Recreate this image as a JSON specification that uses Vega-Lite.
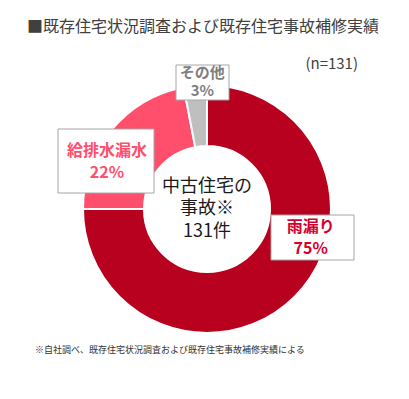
{
  "$schema": "https://vega.github.io/schema/vega-lite/v6.json",
  "padding": {"left": 27, "top": 19, "right": 0, "bottom": 0},
  "background": "white",
  "title": {"text": "■既存住宅状況調査および既存住宅事故補修実績", "anchor": "start", "fontSize": 16, "fontWeight": "normal", "color": "#404040", "font": "Noto Sans CJK JP", "offset": 22},
  "data": {"values": [
    {"cause": "雨漏り", "value": 75},
    {"cause": "給排水漏水", "value": 22},
    {"cause": "その他", "value": 3}
  ]},
  "transform": [
    {"stack": "value", "groupby": [], "sort": [{"field": "value", "order": "descending"}], "as": ["v0", "v1"]},
    {"calculate": "(datum.v0 + datum.v1) / 2", "as": "mid"},
    {"calculate": "datum.cause + '\\n' + datum.value + '%'", "as": "label"}
  ],
  "vconcat": [{
    "title": {"text": "※自社調べ、既存住宅状況調査および既存住宅事故補修実績による", "orient": "bottom", "anchor": "start", "dx": 8, "fontSize": 9, "fontWeight": "normal", "color": "#333333", "font": "Noto Sans CJK JP", "offset": 9},
    "vconcat": [{
      "title": {"text": "(n=131)", "anchor": "end", "dx": -29, "fontSize": 15, "fontWeight": "normal", "color": "#404040", "font": "Noto Sans CJK JP", "offset": -9},
      "width": 360,
      "height": 248,
      "layer": [
        {
          "mark": {"type": "arc", "outerRadius": 124, "innerRadius": 63, "stroke": "white", "strokeWidth": 2},
          "encoding": {
            "theta": {"field": "v0", "type": "quantitative", "scale": {"domain": [0, 100]}},
            "theta2": {"field": "v1"},
            "color": {"field": "cause", "type": "nominal", "legend": null, "scale": {"domain": ["雨漏り", "給排水漏水", "その他"], "range": ["#B8001F", "#FF4F6D", "#BFBFBF"]}}
          }
        },
        {
          "transform": [{"filter": "datum.cause === '雨漏り'"}],
          "mark": {"type": "point", "shape": "M-0.83,-0.45L0.83,-0.45L0.83,0.45L-0.83,0.45Z", "size": 10000, "filled": true, "fill": "white", "stroke": "#A6A6A6", "strokeWidth": 1, "opacity": 1, "xOffset": 105.5, "yOffset": 28.5},
          "encoding": {}
        },
        {
          "transform": [{"filter": "datum.cause === '給排水漏水'"}],
          "mark": {"type": "point", "shape": "M-0.96,-0.64L0.96,-0.64L0.96,0.64L-0.96,0.64Z", "size": 10000, "filled": true, "fill": "white", "stroke": "#A6A6A6", "strokeWidth": 1, "opacity": 1, "xOffset": -101, "yOffset": -48},
          "encoding": {}
        },
        {
          "transform": [{"filter": "datum.cause === 'その他'"}],
          "mark": {"type": "point", "shape": "M-0.53,-0.35L0.53,-0.35L0.53,0.35L-0.53,0.35Z", "size": 10000, "filled": true, "fill": "white", "stroke": "#A6A6A6", "strokeWidth": 1, "opacity": 1, "xOffset": -4.5, "yOffset": -126.5},
          "encoding": {}
        },
        {
          "transform": [{"filter": "datum.cause === '雨漏り'"}],
          "mark": {"type": "text", "radius": 124, "dx": 16, "dy": -70, "lineBreak": "\n", "lineHeight": 22, "fontSize": 16, "fontWeight": "bold", "font": "Noto Sans CJK JP", "color": "#D4002E", "align": "center", "baseline": "middle"},
          "encoding": {"theta": {"field": "mid", "type": "quantitative"}, "text": {"field": "label"}}
        },
        {
          "transform": [{"filter": "datum.cause === '給排水漏水'"}],
          "mark": {"type": "text", "radius": 124, "dx": -4.5, "dy": 21, "lineBreak": "\n", "lineHeight": 22, "fontSize": 16, "fontWeight": "bold", "font": "Noto Sans CJK JP", "color": "#FF4F6D", "align": "center", "baseline": "middle"},
          "encoding": {"theta": {"field": "mid", "type": "quantitative"}, "text": {"field": "label"}}
        },
        {
          "transform": [{"filter": "datum.cause === 'その他'"}],
          "mark": {"type": "text", "radius": 124, "dx": 7, "dy": -12.5, "lineBreak": "\n", "lineHeight": 18, "fontSize": 15, "fontWeight": "bold", "font": "Noto Sans CJK JP", "color": "#7F7F7F", "align": "center", "baseline": "middle"},
          "encoding": {"theta": {"field": "mid", "type": "quantitative"}, "text": {"field": "label"}}
        },
        {
          "transform": [{"filter": "datum.cause === '雨漏り'"}],
          "mark": {"type": "text", "text": ["中古住宅の", "事故※", "131件"], "dy": -22.5, "lineHeight": 22.5, "fontSize": 18, "fontWeight": "normal", "font": "Noto Sans CJK JP", "color": "#1A1A1A", "align": "center", "baseline": "middle"},
          "encoding": {}
        }
      ]
    }]
  }],
  "config": {"view": {"stroke": null}, "concat": {"spacing": 0}}
}
